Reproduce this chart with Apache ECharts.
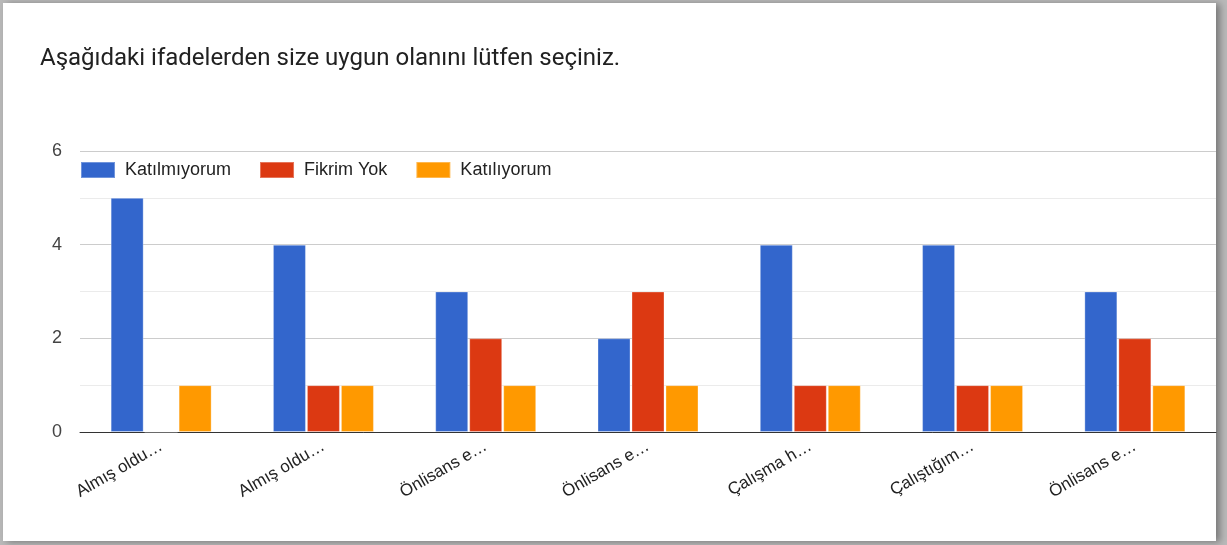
<!DOCTYPE html>
<html>
<head>
<meta charset="utf-8">
<script src="https://cdn.jsdelivr.net/npm/echarts@6/dist/echarts.min.js"></script>
<style>
  html, body { margin: 0; padding: 0; background: #b9b9b9; width: 1227px; height: 545px; overflow: hidden; }
  #card { position: absolute; left: 3px; top: 3px; width: 1213px; height: 538px; background: #fff;
          box-shadow: 4px 1px 7px rgba(0,0,0,0.35); }
  #chart { position: absolute; left: 0; top: 0; width: 1227px; height: 545px; }
</style>
</head>
<body>
<div id="card"></div>
<div id="chart"></div>
<script>
const title = 'Aşağıdaki ifadelerden size uygun olanını lütfen seçiniz.'
const categories = ['Almış oldu…', 'Almış oldu…', 'Önlisans e…', 'Önlisans e…', 'Çalışma h…', 'Çalıştığım…', 'Önlisans e…']
const seriesNames = ['Katılmıyorum', 'Fikrim Yok', 'Katılıyorum']
const katilmiyorum = [5, 4, 3, 2, 4, 4, 3]
const fikrimYok = [0, 1, 2, 3, 1, 1, 2]
const katiliyorum = [1, 1, 1, 1, 1, 1, 1]
const colors = ['#3366cc', '#dc3912', '#ff9900']

const chart = echarts.init(document.getElementById('chart'))

const makeSeries = (name, data, color) => ({
  name,
  type: 'bar',
  data,
  barWidth: 33,
  barGap: '3%',
  itemStyle: { color, borderColor: 'rgba(255,255,255,0.3)', borderWidth: 1 },
  emphasis: { disabled: true }
})

chart.setOption({
  animation: false,
  textStyle: { fontFamily: 'Arial, "Liberation Sans", sans-serif' },
  title: {
    text: title,
    left: 40,
    top: 47,
    padding: 0,
    textStyle: { fontFamily: 'Roboto, sans-serif', fontSize: 24, fontWeight: 'normal', color: '#212121' }
  },
  legend: {
    left: 80,
    top: 161,
    padding: 0,
    itemWidth: 34,
    itemHeight: 16,
    itemGap: 28,
    icon: 'rect',
    textStyle: { fontSize: 18, color: '#222', padding: [0, 0, 0, 5] },
    data: seriesNames
  },
  grid: { left: 80, right: 11, top: 151, bottom: 113, containLabel: false },
  xAxis: {
    type: 'category',
    data: categories,
    axisTick: { show: false },
    axisLine: { lineStyle: { color: '#333', width: 1 } },
    axisLabel: { rotate: 30, margin: 13, fontSize: 17, color: '#222', interval: 0 }
  },
  yAxis: {
    type: 'value',
    min: 0,
    max: 6,
    interval: 2,
    axisLabel: { fontSize: 18, color: '#444', margin: 18 },
    splitLine: { lineStyle: { color: '#cccccc' } },
    minorTick: { show: false, splitNumber: 2 },
    minorSplitLine: { show: true, lineStyle: { color: '#ebebeb' } }
  },
  series: [
    makeSeries(seriesNames[0], katilmiyorum, colors[0]),
    makeSeries(seriesNames[1], fikrimYok, colors[1]),
    makeSeries(seriesNames[2], katiliyorum, colors[2])
  ]
})
</script>
</body>
</html>
